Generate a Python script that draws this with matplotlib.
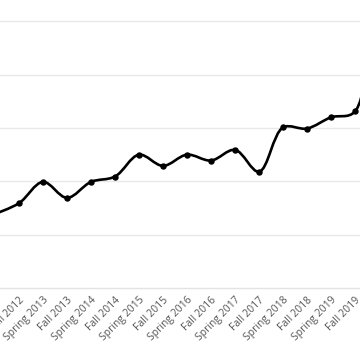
import numpy as np
import matplotlib
matplotlib.use('Agg')
import matplotlib.pyplot as plt
from matplotlib.path import Path
from matplotlib.patches import PathPatch

terms = ['Spring 2012', 'Fall 2012', 'Spring 2013', 'Fall 2013', 'Spring 2014',
         'Fall 2014', 'Spring 2015', 'Fall 2015', 'Spring 2016', 'Fall 2016',
         'Spring 2017', 'Fall 2017', 'Spring 2018', 'Fall 2018', 'Spring 2019',
         'Fall 2019', 'Spring 2020']
values = [13.9, 15.9, 19.9, 16.9, 19.9, 20.9, 25.0, 22.9, 25.0, 23.9,
          25.9, 21.8, 30.1, 29.9, 32.0, 33.1, 70.0]
grid_values = [10, 20, 30, 40, 50]


def catmull_rom(P):
    # centripetal catmull-rom (alpha 0.5) as cubic bezier segments
    verts = [P[0]]
    codes = [Path.MOVETO]
    n = len(P)
    for i in range(n - 1):
        p1, p2 = P[i], P[i + 1]
        l12 = np.hypot(*(p2 - p1))
        c1, c2 = p1.copy(), p2.copy()
        if i > 0:
            p0 = P[i - 1]
            l01 = np.hypot(*(p1 - p0))
            a = 2 * l01 + 3 * np.sqrt(l01 * l12) + l12
            m = 3 * np.sqrt(l01) * (np.sqrt(l01) + np.sqrt(l12))
            c1 = (p1 * a - p0 * l12 + p2 * l01) / m
        if i < n - 2:
            p3 = P[i + 2]
            l23 = np.hypot(*(p3 - p2))
            b = 2 * l23 + 3 * np.sqrt(l23 * l12) + l12
            m = 3 * np.sqrt(l23) * (np.sqrt(l23) + np.sqrt(l12))
            c2 = (p2 * b + p1 * l23 - p3 * l12) / m
        verts += [c1, c2, p2]
        codes += [Path.CURVE4] * 3
    return np.array(verts), codes


fig = plt.figure(figsize=(3.6, 3.6), dpi=100)
ax = fig.add_axes([0, 0.2, 1, 0.8])
x = np.arange(len(terms))

ax.set_xticks(x)
ax.set_xticklabels(terms, rotation=45, ha='right', rotation_mode='anchor',
                   fontsize=7.5, color='#555555', family='Open Sans')
ax.tick_params(axis='x', length=0, pad=5)
ax.tick_params(axis='y', length=0, labelleft=False)
ax.set_yticks([])

ax.set_xlim(1 - 19 / 24, 1 - 19 / 24 + 15)
ax.set_ylim(0, 54)

for g in grid_values:
    ax.axhline(g, color='#e8e8e8', lw=1, zorder=0)
for s in ['top', 'left', 'right']:
    ax.spines[s].set_visible(False)
ax.spines['bottom'].set_color('#e3e3e3')
ax.spines['bottom'].set_linewidth(1)

pts = ax.transData.transform(np.column_stack([x, values]))
verts, codes = catmull_rom(pts)
verts = ax.transData.inverted().transform(verts)
ax.add_patch(PathPatch(Path(verts, codes), fill=False, ec='black', lw=1.9,
                       transform=ax.transData, zorder=2))
ax.plot(x, values, 'o', color='black', ms=3.6, zorder=3)
ax.set_xlim(1 - 19 / 24, 1 - 19 / 24 + 15)
ax.set_ylim(0, 54)

fig.savefig('out.png', dpi=100)
